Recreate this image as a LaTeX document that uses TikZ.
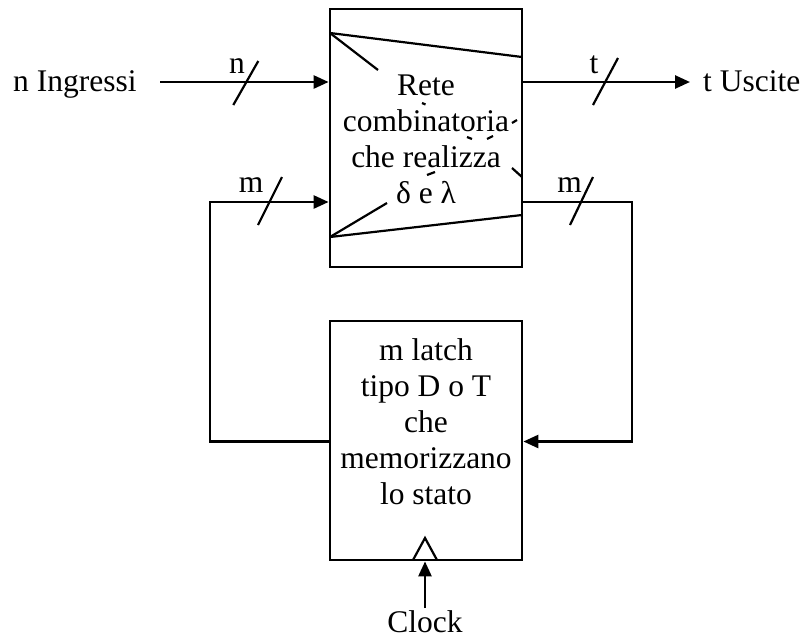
\documentclass[tikz,border=0pt]{standalone}
\usepackage{fontspec}
\setmainfont{Liberation Serif}
\usetikzlibrary{arrows.meta}
\begin{document}
\begin{tikzpicture}[x=1pt,y=-1pt,
  wire/.style={line width=2.6pt},
  arr/.style={wire,-{Triangle[length=15pt,width=13pt]}},
  slash/.style={line width=2.2pt},
  inner/.style={line width=2.2pt},
  blk/.style={draw,line width=2.8pt,rectangle,inner sep=0pt},
  lbl/.style={inner sep=0pt,font=\fontsize{31.5}{36}\selectfont},
]
\useasboundingbox (0,0) rectangle (804,638);
% blocks
\node[blk,minimum width=192pt,minimum height=258pt] (comb) at (426,138) {};
\node[blk,minimum width=192pt,minimum height=239pt] (latch) at (426,440.5) {};
% decorations inside the combinational block
\draw[inner] (330,33) -- (522,57);
\draw[inner] (330,237) -- (522,215);
\draw[inner] (330,33) -- (378,70);
\draw[inner] (422,103) -- (425.5,104.5);
\draw[inner] (467,137) -- (472,139);
\draw[inner] (330,237) -- (387,203);
\draw[inner] (427,175) -- (435,172);
\draw[inner] (487,139) -- (493,136);
\draw[inner] (512,123) -- (517,120);
\draw[inner] (512,168) -- (522,177);
% text of combinational block
\node[lbl,anchor=base] (c1) at (426,95) {Rete};
\node[lbl,anchor=base] (c2) at (426,131) {combinatoria};
\node[lbl,anchor=base] (c3) at (426,167) {che realizza};
\node[lbl,anchor=base] (c4) at (426,203) {δ e λ};
% text of latch block
\node[lbl,anchor=base] (l1) at (426,360) {m latch};
\node[lbl,anchor=base] (l2) at (426,396) {tipo D o T};
\node[lbl,anchor=base] (l3) at (426,432) {che};
\node[lbl,anchor=base] (l4) at (426,468) {memorizzano};
\node[lbl,anchor=base] (l5) at (426,504) {lo stato};
% clock input
\draw[inner] (413,560) -- (425,538) -- (437,560);
\node[lbl,anchor=base] (clk) at (425,632) {Clock};
\coordinate (clkA) at (425,608);
\draw[arr] (clkA) -- (clkA |- latch.south);
% input
\node[lbl,anchor=base west] (inl) at (13,91.7) {n Ingressi};
\coordinate (inA) at (160,82);
\draw[arr] (inA) -- (inA -| comb.west);
\draw[slash] (233.3,105) -- (258.3,61);
\node[lbl,anchor=base] (nl) at (237,73) {n};
% output
\coordinate (outA) at (comb.east |- 0,82);
\coordinate (outB) at (690,82);
\draw[arr] (outA) -- (outB);
\draw[slash] (593,105) -- (618,58);
\node[lbl,anchor=base] (tl) at (594,73) {t};
\node[lbl,anchor=base west] (outl) at (703,91) {t Uscite};
% feedback left
\coordinate (fbL1) at (latch.west |- 0,441.5);
\coordinate (fbL2) at (210,441.5);
\coordinate (fbL3) at (210,202);
\draw[arr] (fbL1) -- (fbL2) -- (fbL3) -- (fbL3 -| comb.west);
\draw[slash] (258,225) -- (282,177);
\node[lbl,anchor=base] (ml) at (251,192) {m};
% feedback right
\coordinate (fbR1) at (comb.east |- 0,202);
\coordinate (fbR2) at (632,202);
\coordinate (fbR3) at (632,441.5);
\draw[arr] (fbR1) -- (fbR2) -- (fbR3) -- (fbR3 -| latch.east);
\draw[slash] (570,225) -- (593,177);
\node[lbl,anchor=base] (mr) at (569.5,192) {m};
\end{tikzpicture}
\end{document}
